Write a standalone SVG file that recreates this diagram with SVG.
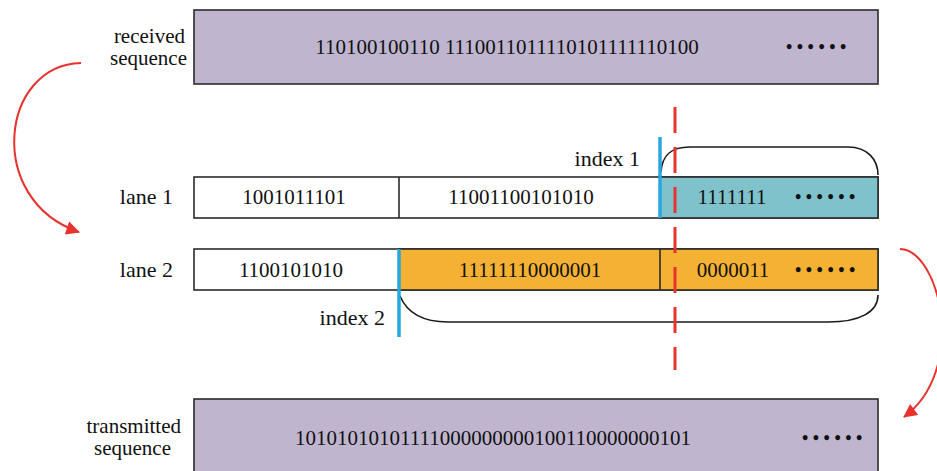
<svg xmlns="http://www.w3.org/2000/svg" width="937" height="471" viewBox="0 0 937 471">
<defs>
<style>
.box{stroke:#2b2b2b;stroke-width:1.6}
.seq{fill:#bfb5cf}
.t{font-family:"Liberation Serif",serif;font-size:21px;fill:#111}
.lbl{font-family:"Liberation Serif",serif;font-size:22px;fill:#111}
.lbl2{font-family:"Liberation Serif",serif;font-size:21px;fill:#111}
.dots{font-family:"Liberation Serif",serif;font-size:18px;font-weight:bold;fill:#111;letter-spacing:4.5px}
.red{fill:none;stroke:#e8322e;stroke-width:2}
.blue{stroke:#27a7de;stroke-width:3.5}
.brace{fill:none;stroke:#1a1a1a;stroke-width:1.6}
</style>
<marker id="ah" viewBox="0 0 10 10" refX="9" refY="5" markerWidth="8" markerHeight="8" markerUnits="userSpaceOnUse" orient="auto" style="overflow:visible">
<path d="M0,0 L10,5 L0,10 Z" fill="#e8322e" transform="scale(1.7) translate(-4,-2)"/>
</marker>
</defs>

<g id="received">
<rect class="box seq" x="194" y="10" width="684" height="74"/>
<text class="t" x="507" y="54" text-anchor="middle">110100100110 1110011011110101111110100</text>
<text class="dots" x="786" y="53">••••••</text>
<text class="lbl2" x="185" y="43" text-anchor="end">received</text>
<text class="lbl2" x="187" y="65" text-anchor="end">sequence</text>
</g>

<g id="lane1">
<rect class="box" x="194" y="177" width="684" height="41" fill="#fff"/>
<rect class="box" x="660" y="177" width="218" height="41" fill="#80c2cc"/>
<line class="box" x1="399" y1="177" x2="399" y2="218"/>
<text class="t" x="294" y="204" text-anchor="middle">1001011101</text>
<text class="t" x="521" y="204" text-anchor="middle">11001100101010</text>
<text class="t" x="732" y="204" text-anchor="middle">1111111</text>
<text class="dots" x="795" y="203">••••••</text>
<text class="lbl" x="173" y="204" text-anchor="end">lane 1</text>
</g>

<g id="lane2">
<rect class="box" x="194" y="249" width="684" height="41" fill="#fff"/>
<rect class="box" x="399" y="249" width="479" height="41" fill="#f4b133"/>
<line class="box" x1="660" y1="249" x2="660" y2="290"/>
<text class="t" x="291" y="277" text-anchor="middle">1100101010</text>
<text class="t" x="530" y="277" text-anchor="middle">11111110000001</text>
<text class="t" x="733" y="277" text-anchor="middle">0000011</text>
<text class="dots" x="795" y="276">••••••</text>
<text class="lbl" x="173" y="277" text-anchor="end">lane 2</text>
</g>

<g id="index1">
<path class="brace" d="M661,172 C662,156 670,147 690,147 L848,147 C868,147 878,160 878,175"/>
<line class="blue" x1="660" y1="137" x2="660" y2="218"/>
<text class="lbl" x="640" y="166" text-anchor="end">index 1</text>
</g>

<g id="index2">
<path class="brace" d="M400,296 C408,315 425,322 448,322 L828,322 C860,322 878,312 878,295"/>
<line class="blue" x1="399" y1="249" x2="399" y2="337"/>
<text class="lbl" x="385" y="325" text-anchor="end">index 2</text>
</g>

<g id="transmitted">
<rect class="box seq" x="194" y="399" width="684" height="80"/>
<text class="t" x="493" y="445" text-anchor="middle">10101010101111000000000100110000000101</text>
<text class="dots" x="802" y="444">••••••</text>
<text class="lbl2" x="181" y="433" text-anchor="end">transmitted</text>
<text class="lbl2" x="171" y="455" text-anchor="end">sequence</text>
</g>

<g id="connectors">
<line x1="675" y1="107" x2="675" y2="370" stroke="#e8322e" stroke-width="3" stroke-dasharray="26 14"/>
<path class="red" d="M81,63 C0,65 -15,200 79,232" marker-end="url(#ah)"/>
<path class="red" d="M900,249 C940,250 968,370 904,417" marker-end="url(#ah)"/>
</g>
</svg>
